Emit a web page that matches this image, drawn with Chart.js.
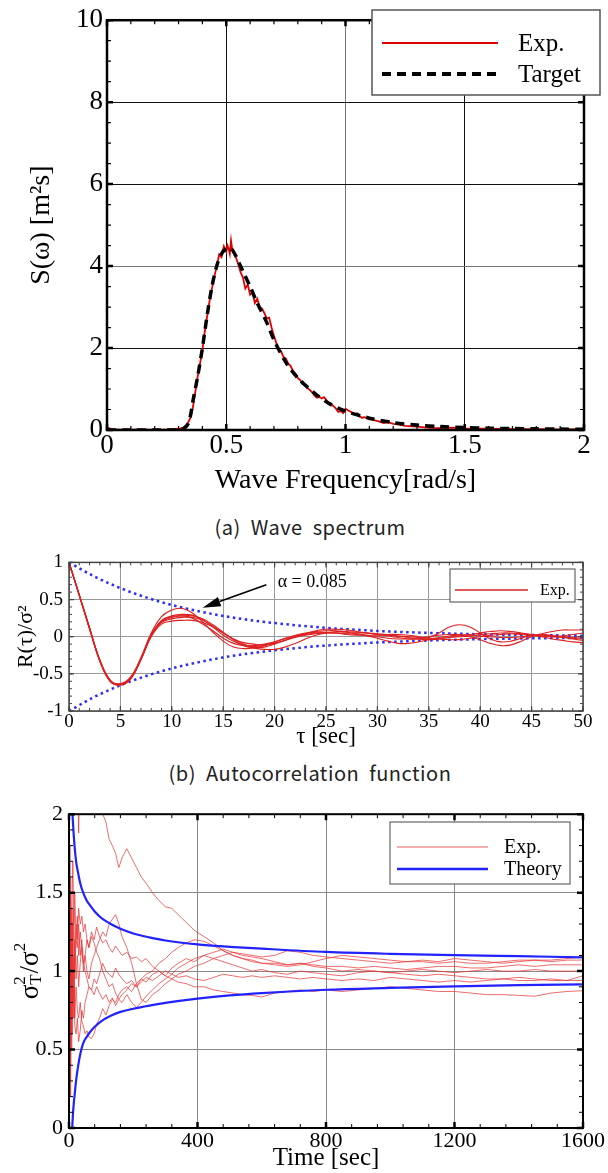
<!DOCTYPE html>
<html>
<head>
<meta charset="utf-8">
<script src="https://cdn.jsdelivr.net/npm/chart.js@4"></script>
<style>
  body { margin: 0; background: #fff; width: 608px; height: 1173px; position: relative; overflow: hidden; }
  canvas { position: absolute; left: 0; }
  .caption { position: absolute; left: 6px; width: 608px; text-align: center; font-family: "Noto Sans CJK KR", sans-serif;
             font-size: 20px; letter-spacing: 0.5px; word-spacing: 5px; color: #222; line-height: 26px; }
</style>
</head>
<body>
<canvas id="spectrumChart" width="608" height="505" style="top:0"></canvas>
<div class="caption" style="top:514px">(a) Wave spectrum</div>
<canvas id="acfChart" width="608" height="210" style="top:545px"></canvas>
<div class="caption" style="top:760px">(b) Autocorrelation function</div>
<canvas id="varChart" width="608" height="378" style="top:795px"></canvas>

<script>
// ---- (a) wave spectrum ----
const specTicksX = [0, 0.5, 1, 1.5, 2];
const specTicksY = [0, 2, 4, 6, 8, 10];

const targetFreq = [0, 0.1, 0.2, 0.3, 0.32, 0.34, 0.35, 0.36, 0.38, 0.40,
  0.42, 0.44, 0.46, 0.48, 0.50, 0.52, 0.54, 0.56, 0.58, 0.60,
  0.63, 0.67, 0.70, 0.75, 0.80, 0.87, 0.93, 1.0, 1.1, 1.2,
  1.3, 1.4, 1.5, 1.6, 1.7, 1.8, 1.9, 2.0];
const targetS = [0, 0, 0, 0, 0.03, 0.15, 0.35, 0.7, 1.3, 2.0,
  2.8, 3.5, 4.0, 4.3, 4.42, 4.43, 4.25, 4.0, 3.75, 3.5,
  3.1, 2.62, 2.2, 1.65, 1.27, 0.9, 0.65, 0.46, 0.29, 0.18,
  0.12, 0.085, 0.06, 0.045, 0.035, 0.028, 0.022, 0.018];

const expFreq = [0, 0.02, 0.05, 0.1, 0.15, 0.2, 0.25, 0.28,
  0.3, 0.32, 0.33, 0.34, 0.35, 0.36, 0.37, 0.38, 0.39,
  0.40, 0.41, 0.42, 0.43, 0.44, 0.45, 0.46, 0.47, 0.48, 0.49, 0.50,
  0.505, 0.51, 0.515, 0.52, 0.525, 0.53,
  0.54, 0.55, 0.56, 0.57, 0.58, 0.59, 0.60, 0.61, 0.62, 0.63,
  0.64, 0.65, 0.66, 0.67, 0.68, 0.69, 0.70, 0.71, 0.72, 0.73,
  0.74, 0.75, 0.76, 0.77, 0.78, 0.79, 0.80, 0.81, 0.82, 0.83,
  0.84, 0.85, 0.86, 0.87, 0.88, 0.89, 0.90, 0.91, 0.92, 0.93,
  0.94, 0.95, 0.96, 0.97, 0.98, 0.99, 1.00, 1.01, 1.02, 1.03,
  1.04, 1.05, 1.06, 1.07, 1.08,
  1.10, 1.12, 1.14, 1.16, 1.18, 1.20, 1.22,
  1.25, 1.28, 1.30, 1.35, 1.40, 1.45, 1.50, 1.55, 1.60, 1.70, 1.80, 1.90, 2.00];
const expS = [0.06, 0.02, 0.01, 0.01, 0.01, 0.01, 0.01, 0.02,
  0.03, 0.06, 0.1, 0.18, 0.3, 0.55, 0.92, 1.3, 1.62,
  1.95, 2.4, 2.78, 3.15, 3.45, 3.75, 3.98, 4.28, 4.22, 4.48, 4.35,
  4.5, 4.42, 4.3, 4.62, 4.4, 4.32,
  4.22, 4.05, 3.85, 3.72, 3.45, 3.55, 3.3, 3.36, 3.1, 3.2,
  3.0, 2.96, 2.85, 2.72, 2.74, 2.5, 2.3, 2.12, 1.98, 1.92,
  1.78, 1.74, 1.62, 1.56, 1.44, 1.38, 1.27, 1.22, 1.12, 1.1,
  1.03, 0.98, 0.92, 0.84, 0.79, 0.81, 0.77, 0.8, 0.73, 0.67,
  0.63, 0.58, 0.52, 0.44, 0.46, 0.41, 0.52, 0.48, 0.45, 0.41,
  0.39, 0.41, 0.33, 0.3, 0.31,
  0.26, 0.24, 0.21, 0.17, 0.19, 0.15, 0.14,
  0.1, 0.09, 0.08, 0.05, 0.045, 0.06, 0.04, 0.03, 0.035, 0.02, 0.02, 0.015, 0.02];

// ---- (b) autocorrelation ----
const acfTicksX = [0, 5, 10, 15, 20, 25, 30, 35, 40, 45, 50];
const acfTicksY = [-1, -0.5, 0, 0.5, 1];

const lag = [0, 1, 2, 3, 4, 5, 6, 7, 8, 9, 10, 11, 12, 13, 14, 15, 16, 17, 18, 19, 20,
  21, 22, 23, 24, 25, 26, 27, 28, 29, 30, 31, 32, 33, 34, 35, 36, 37, 38, 39, 40,
  41, 42, 43, 44, 45, 46, 47, 48, 49, 50];
const acfRun1 = [1, 0.56, 0.11, -0.32, -0.59, -0.64, -0.55, -0.28, 0.05, 0.27,
  0.36, 0.38, 0.32, 0.2, 0.06, -0.06, -0.14, -0.16, -0.15, -0.12,
  -0.07, -0.02, 0.02, 0.05, 0.07, 0.08, 0.08, 0.06, 0.04, 0.02,
  0.0, -0.02, -0.03, -0.03, -0.02, 0.0, 0.02, 0.03, 0.03, 0.02,
  0.01, 0.0, -0.01, -0.01, 0.0, 0.01, 0.02, 0.01, 0.0, -0.02, -0.03];
const acfRun2 = [1, 0.56, 0.12, -0.31, -0.58, -0.65, -0.57, -0.31, 0.02, 0.22,
  0.28, 0.3, 0.29, 0.23, 0.13, 0.02, -0.06, -0.11, -0.13, -0.12,
  -0.09, -0.05, 0.0, 0.04, 0.08, 0.1, 0.1, 0.09, 0.07, 0.05,
  0.03, 0.01, -0.01, -0.03, -0.03, -0.01, 0.05, 0.13, 0.16, 0.13,
  0.05, -0.03, -0.07, -0.06, -0.02, 0.02, 0.03, 0.02, 0.0, -0.01, 0.0];
const acfRun3 = [1, 0.57, 0.12, -0.32, -0.59, -0.64, -0.56, -0.3, 0.02, 0.2,
  0.26, 0.28, 0.28, 0.24, 0.16, 0.06, -0.04, -0.12, -0.15, -0.14,
  -0.1, -0.05, 0.0, 0.03, 0.05, 0.05, 0.05, 0.04, 0.03, 0.01,
  -0.02, -0.06, -0.09, -0.09, -0.07, -0.04, -0.01, 0.01, 0.02, 0.0,
  -0.04, -0.09, -0.12, -0.11, -0.06, 0.0, 0.04, 0.07, 0.09, 0.09, 0.09];
const acfRun4 = [1, 0.56, 0.11, -0.33, -0.6, -0.65, -0.56, -0.31, 0.01, 0.19,
  0.24, 0.26, 0.26, 0.22, 0.14, 0.05, -0.03, -0.08, -0.1, -0.11,
  -0.09, -0.05, -0.01, 0.02, 0.04, 0.05, 0.05, 0.05, 0.05, 0.05,
  0.04, 0.03, 0.01, -0.01, -0.03, -0.04, -0.03, -0.01, 0.01, 0.03,
  0.05, 0.07, 0.08, 0.07, 0.05, 0.03, 0.01, 0.0, -0.01, -0.03, -0.05];
const acfRun5 = [1, 0.55, 0.1, -0.33, -0.6, -0.64, -0.55, -0.3, 0.0, 0.17,
  0.21, 0.22, 0.22, 0.19, 0.13, 0.05, -0.03, -0.1, -0.15, -0.17,
  -0.17, -0.14, -0.09, -0.03, 0.02, 0.05, 0.07, 0.07, 0.06, 0.05,
  0.03, 0.02, 0.01, 0.0, -0.01, -0.02, -0.02, -0.01, 0.0, 0.01,
  0.03, 0.04, 0.05, 0.05, 0.04, 0.02, 0.0, -0.03, -0.05, -0.07, -0.08];
const acfRun6 = [1, 0.56, 0.11, -0.32, -0.59, -0.63, -0.54, -0.29, 0.03, 0.21,
  0.27, 0.28, 0.25, 0.17, 0.08, -0.02, -0.09, -0.12, -0.12, -0.1,
  -0.07, -0.03, 0.01, 0.04, 0.06, 0.06, 0.05, 0.03, 0.02, 0.02,
  0.02, 0.03, 0.03, 0.02, 0.0, -0.02, -0.03, -0.04, -0.04, -0.02,
  0.0, 0.02, 0.03, 0.04, 0.03, 0.02, 0.01, 0.0, 0.01, 0.03, 0.05];

// exponential envelope, alpha = 0.085
const envLag = [0, 2.5, 5, 7.5, 10, 12.5, 15, 17.5, 20, 22.5, 25, 27.5, 30, 32.5, 35, 37.5, 40, 42.5, 45, 47.5, 50];
const envUpper = [1, 0.808, 0.654, 0.529, 0.427, 0.346, 0.279, 0.226, 0.183, 0.148, 0.119,
  0.097, 0.078, 0.063, 0.051, 0.041, 0.033, 0.027, 0.022, 0.018, 0.014];
const envLower = [-1, -0.808, -0.654, -0.529, -0.427, -0.346, -0.279, -0.226, -0.183, -0.148, -0.119,
  -0.097, -0.078, -0.063, -0.051, -0.041, -0.033, -0.027, -0.022, -0.018, -0.014];

// ---- (c) sample variance ratio vs record length ----
const varTicksX = [0, 400, 800, 1200, 1600];
const varTicksY = [0, 0.5, 1, 1.5, 2];

const recTime = [1, 3, 5, 7, 9, 12, 15, 18, 22, 26,
  30, 35, 40, 45, 50, 56, 62, 70, 78, 86,
  95, 105, 115, 125, 135, 145, 155, 165, 180, 195,
  210, 225, 240, 260, 280, 300, 320, 340, 365, 390,
  420, 450, 480, 510, 540, 570, 600, 640, 680, 720,
  760, 800, 850, 900, 950, 1000, 1050, 1100, 1150, 1200,
  1250, 1300, 1350, 1400, 1450, 1500, 1550, 1600];
const varRun1 = [2.4, 2.8, 3.1, 2.9, 2.7, 2.9, 3.0, 2.8, 2.6, 2.7,
  1.88, 2.45, 2.35, 2.3, 2.25, 2.2, 2.15, 2.1, 2.08, 2.05,
  2.02, 2.0, 1.95, 1.84, 1.8, 1.75, 1.66, 1.72, 1.78, 1.72,
  1.66, 1.6, 1.56, 1.5, 1.45, 1.41, 1.40, 1.36, 1.31, 1.26,
  1.22, 1.18, 1.13, 1.1, 1.08, 1.07, 1.05, 1.05, 1.04, 1.05,
  1.04, 1.03, 1.03, 1.02, 1.03, 1.02, 1.01, 1.02, 1.03, 1.03,
  1.02, 1.02, 1.03, 1.04, 1.03, 1.04, 1.04, 1.04];
const varRun2 = [1.2, 0.7, 1.5, 0.9, 1.3, 1.1, 1.4, 1.0, 1.2, 1.15,
  1.3, 1.1, 1.2, 1.05, 1.1, 1.0, 0.95, 1.05, 1.1, 1.15,
  1.2, 1.25, 1.22, 1.3, 1.33, 1.36, 1.3, 1.22, 1.15, 1.05,
  0.92, 0.82, 0.8, 0.85, 0.88, 0.92, 0.95, 0.98, 1.0, 1.03,
  1.05, 1.08, 1.1, 1.12, 1.11, 1.1, 1.09, 1.1, 1.13, 1.12,
  1.1, 1.09, 1.08, 1.07, 1.06, 1.05, 1.06, 1.07, 1.06, 1.08,
  1.07, 1.06, 1.05, 1.06, 1.07, 1.07, 1.08, 1.09];
const varRun3 = [0.3, 0.9, 0.2, 1.1, 0.6, 1.3, 0.8, 1.2, 0.95, 1.1,
  0.9, 1.05, 1.15, 1.0, 1.1, 1.2, 1.15, 1.25, 1.2, 1.28,
  1.22, 1.18, 1.2, 1.15, 1.12, 1.16, 1.13, 1.1, 1.12, 1.08,
  1.09, 1.06, 1.08, 1.03, 1.0, 0.97, 0.95, 0.93, 0.92, 0.9,
  0.9, 0.88, 0.87, 0.86, 0.85, 0.845, 0.835, 0.86, 0.87, 0.88,
  0.87, 0.88, 0.87, 0.88, 0.89, 0.9, 0.89, 0.88, 0.87, 0.87,
  0.86, 0.85, 0.85, 0.845, 0.84, 0.86, 0.87, 0.875];
const varRun4 = [0.2, 1.5, 0.5, 1.2, 0.9, 0.8, 1.1, 0.7, 0.9, 0.75,
  0.7, 0.8, 0.68, 0.65, 0.6, 0.62, 0.58, 0.57, 0.6, 0.66,
  0.7, 0.76, 0.72, 0.78, 0.82, 0.8, 0.85, 0.88, 0.9, 0.87,
  0.92, 0.95, 0.93, 0.98, 1.0, 0.97, 1.02, 1.05, 1.08, 1.06,
  1.1, 1.08, 1.06, 1.04, 1.02, 1.0, 1.01, 0.99, 0.98, 1.0,
  0.99, 0.98, 0.97, 0.99, 1.0, 0.99, 0.98, 0.97, 0.98, 0.97,
  0.96, 0.95, 0.95, 0.96, 0.95, 0.94, 0.94, 0.94];
const varRun5 = [1.8, 1.0, 1.6, 1.2, 1.4, 1.7, 1.3, 1.5, 1.2, 1.35,
  1.1, 1.25, 1.15, 1.05, 1.0, 0.95, 0.9, 0.88, 0.85, 0.9,
  0.86, 0.82, 0.85, 0.8, 0.83, 0.78, 0.82, 0.8, 0.85, 0.8,
  0.77, 0.8, 0.84, 0.88, 0.92, 0.95, 0.98, 1.02, 1.05, 1.08,
  1.1, 1.12, 1.14, 1.12, 1.1, 1.09, 1.08, 1.06, 1.04, 1.05,
  1.03, 1.02, 1.0, 1.01, 1.0, 0.99, 1.0, 1.01, 1.0, 0.99,
  1.0, 1.01, 1.0, 1.0, 1.01, 1.0, 1.0, 1.0];
const varRun6 = [0.6, 1.3, 0.4, 0.8, 1.4, 1.0, 0.7, 1.1, 1.3, 1.2,
  1.4, 1.3, 1.35, 1.25, 1.3, 1.2, 1.15, 1.22, 1.18, 1.12,
  1.08, 1.0, 0.95, 0.9, 0.92, 0.86, 0.82, 0.85, 0.88, 0.92,
  0.9, 0.95, 0.98, 1.0, 1.05, 1.08, 1.12, 1.15, 1.18, 1.2,
  1.19, 1.16, 1.13, 1.1, 1.08, 1.06, 1.05, 1.04, 1.03, 1.04,
  1.06, 1.08, 1.1, 1.09, 1.08, 1.07, 1.06, 1.06, 1.05, 1.06,
  1.05, 1.05, 1.06, 1.07, 1.07, 1.06, 1.07, 1.07];
const varRun7 = [1.0, 0.3, 0.8, 0.5, 1.0, 0.7, 0.9, 0.65, 0.6, 0.7,
  0.55, 0.62, 0.75, 0.7, 0.8, 0.85, 0.9, 0.88, 0.95, 0.92,
  0.98, 1.05, 1.0, 0.98, 0.96, 1.02, 0.98, 0.95, 0.92, 0.94,
  0.9, 0.93, 0.96, 0.94, 0.97, 1.0, 0.98, 0.96, 0.97, 0.95,
  0.94, 0.96, 0.98, 0.97, 0.96, 0.97, 0.96, 0.97, 0.96, 0.95,
  0.96, 0.95, 0.94, 0.95, 0.94, 0.96, 0.95, 0.94, 0.93, 0.94,
  0.93, 0.94, 0.95, 0.94, 0.94, 0.95, 0.94, 0.97];

const theoryUpperTime = [5, 8, 10, 12, 15, 18, 22, 28, 35, 44, 55, 65, 80, 100, 130, 160, 200, 250, 300, 400,
  500, 600, 800, 1000, 1200, 1400, 1600];
const theoryUpper = [2.6, 2.2, 2.05, 1.96, 1.86, 1.78, 1.70, 1.63, 1.56, 1.5, 1.45, 1.42, 1.38, 1.34, 1.3, 1.27,
  1.24, 1.215, 1.195, 1.17, 1.155, 1.143, 1.122, 1.11, 1.102, 1.095, 1.088];
const theoryLowerTime = [10, 12, 15, 18, 22, 28, 35, 44, 55, 65, 80, 100, 130, 160, 200, 250, 300, 400,
  500, 600, 800, 1000, 1200, 1400, 1600];
const theoryLower = [0.0, 0.08, 0.16, 0.22, 0.3, 0.39, 0.47, 0.54, 0.58, 0.61, 0.645, 0.68, 0.715, 0.74,
  0.76, 0.78, 0.797, 0.824, 0.845, 0.86, 0.881, 0.893, 0.903, 0.91, 0.915];

// ---------------------------------------------------------------------------
const SERIF = '"Liberation Serif", "Times New Roman", serif';
Chart.defaults.font.family = SERIF;
Chart.defaults.color = '#000';
Chart.defaults.animation = false;
Chart.defaults.elements.point.radius = 0;
Chart.defaults.plugins.legend.display = false;
Chart.defaults.plugins.tooltip.enabled = false;

const pts = (xs, ys) => xs.map((x, i) => ({ x, y: ys[i] }));

// linear axis with fixed tick list and a fixed box size so the plot area lands where we want
function axis(ticks, o) {
  return {
    type: 'linear',
    min: ticks[0],
    max: ticks[ticks.length - 1],
    afterBuildTicks: s => { s.ticks = ticks.map(value => ({ value })); },
    afterFit: s => { if (s.isHorizontal()) s.height = o.size; else s.width = o.size; },
    grid: { color: o.grid, lineWidth: 1, drawTicks: false },
    border: { display: false },
    ticks: { font: { size: o.tickSize, family: SERIF }, padding: o.pad, color: '#000', callback: v => String(v) },
    title: { display: !!o.title, text: o.title, font: { size: o.titleSize, family: SERIF }, padding: o.titlePad, color: '#000' }
  };
}

// box frame plus inward major/minor ticks on all four sides
const frameTicks = {
  id: 'frameTicks',
  afterDatasetsDraw(chart, args, o) {
    const { ctx, chartArea: a, scales: { x, y } } = chart;
    ctx.save();
    ctx.strokeStyle = o.color;
    const mark = (scale, step, len, width) => {
      const n = Math.round((scale.max - scale.min) / step);
      ctx.lineWidth = width;
      ctx.beginPath();
      for (let i = 0; i <= n; i++) {
        const p = scale.getPixelForValue(scale.min + i * step);
        if (scale.isHorizontal()) {
          ctx.moveTo(p, a.bottom); ctx.lineTo(p, a.bottom - len);
          ctx.moveTo(p, a.top); ctx.lineTo(p, a.top + len);
        } else {
          ctx.moveTo(a.left, p); ctx.lineTo(a.left + len, p);
          ctx.moveTo(a.right, p); ctx.lineTo(a.right - len, p);
        }
      }
      ctx.stroke();
    };
    mark(x, o.xMinor, o.minorLen, o.minorWidth);
    mark(y, o.yMinor, o.minorLen, o.minorWidth);
    mark(x, o.xMajor, o.majorLen, o.majorWidth);
    mark(y, o.yMajor, o.majorLen, o.majorWidth);
    ctx.lineWidth = o.frameWidth;
    ctx.strokeRect(a.left, a.top, a.right - a.left, a.bottom - a.top);
    ctx.restore();
  }
};

// boxed legend, one row per label, style taken from the first dataset carrying that label
const boxLegend = {
  id: 'boxLegend',
  afterDraw(chart, args, o) {
    const { ctx } = chart;
    const [l, t, r, b] = o.box;
    ctx.save();
    ctx.fillStyle = '#fff';
    ctx.fillRect(l, t, r - l, b - t);
    ctx.strokeStyle = o.borderColor;
    ctx.lineWidth = o.borderWidth;
    ctx.strokeRect(l, t, r - l, b - t);
    ctx.font = o.font;
    ctx.textBaseline = 'middle';
    for (const row of o.rows) {
      const ds = chart.data.datasets.find(d => d.label === row.label);
      ctx.strokeStyle = ds.borderColor;
      ctx.lineWidth = row.lineWidth || ds.borderWidth;
      ctx.setLineDash(ds.borderDash || []);
      ctx.beginPath();
      ctx.moveTo(o.lineX[0], row.y);
      ctx.lineTo(o.lineX[1], row.y);
      ctx.stroke();
      ctx.setLineDash([]);
      ctx.fillStyle = '#000';
      ctx.fillText(row.label, o.textX, row.y + 1);
    }
    ctx.restore();
  }
};

// arrow + label pointing at the envelope (data coordinates)
const alphaNote = {
  id: 'alphaNote',
  afterDraw(chart, args, o) {
    const { ctx, scales: { x, y } } = chart;
    const tx = x.getPixelForValue(o.tip[0]), ty = y.getPixelForValue(o.tip[1]);
    const sx = x.getPixelForValue(o.tail[0]), sy = y.getPixelForValue(o.tail[1]);
    const ang = Math.atan2(ty - sy, tx - sx);
    const head = 18, half = 5;
    const bx = tx - head * Math.cos(ang), by = ty - head * Math.sin(ang);
    ctx.save();
    ctx.strokeStyle = '#000';
    ctx.fillStyle = '#000';
    ctx.lineWidth = 1.6;
    ctx.beginPath(); ctx.moveTo(sx, sy); ctx.lineTo(bx, by); ctx.stroke();
    ctx.beginPath();
    ctx.moveTo(tx, ty);
    ctx.lineTo(bx + half * Math.sin(ang), by - half * Math.cos(ang));
    ctx.lineTo(bx - half * Math.sin(ang), by + half * Math.cos(ang));
    ctx.closePath(); ctx.fill();
    ctx.font = o.font;
    ctx.textBaseline = 'middle';
    ctx.fillText(o.text, x.getPixelForValue(o.at[0]), y.getPixelForValue(o.at[1]));
    ctx.restore();
  }
};

// sigma_T^2 / sigma^2 axis title with stacked sub/superscript
const sigmaTitle = {
  id: 'sigmaTitle',
  afterDraw(chart, args, o) {
    const { ctx, chartArea: a } = chart;
    const big = `${o.size}px ${SERIF}`, small = `${Math.round(o.size * 0.62)}px ${SERIF}`;
    ctx.save();
    ctx.translate(o.x, (a.top + a.bottom) / 2);
    ctx.rotate(-Math.PI / 2);
    ctx.fillStyle = '#000';
    ctx.textBaseline = 'alphabetic';
    ctx.font = big;
    const wSig = ctx.measureText('σ').width, wSlash = ctx.measureText('/σ').width;
    ctx.font = small;
    const wStack = Math.max(ctx.measureText('2').width, ctx.measureText('T').width) + 1;
    const w2 = ctx.measureText('2').width;
    const base = o.size * 0.32;
    let cx = -(wSig + wStack + wSlash + w2) / 2;
    ctx.font = big; ctx.fillText('σ', cx, base); cx += wSig;
    ctx.font = small;
    ctx.fillText('2', cx, base - o.size * 0.48);
    ctx.fillText('T', cx, base + o.size * 0.12);
    cx += wStack;
    ctx.font = big; ctx.fillText('/σ', cx, base); cx += wSlash;
    ctx.font = small; ctx.fillText('2', cx, base - o.size * 0.48);
    ctx.restore();
  }
};

// (a)
new Chart(document.getElementById('spectrumChart'), {
  type: 'line',
  data: {
    datasets: [
      { label: 'Target', data: pts(targetFreq, targetS), borderColor: '#000', borderWidth: 3.5,
        borderDash: [9, 6], tension: 0.3, order: 0 },
      { label: 'Exp.', data: pts(expFreq, expS), borderColor: '#e00000', borderWidth: 1.8, order: 1 }
    ]
  },
  options: {
    responsive: false,
    layout: { padding: { top: 18, right: 24, left: 0, bottom: 0 } },
    scales: {
      x: axis(specTicksX, { size: 75, tickSize: 27, pad: 0, title: 'Wave Frequency[rad/s]', titleSize: 28, titlePad: 8,
        grid: c => (c.tick && c.tick.value === 1 ? '#777' : '#111') }),
      y: axis(specTicksY, { size: 107, tickSize: 27, pad: 4, title: 'S(ω) [m²s]', titleSize: 28, titlePad: 25,
        grid: c => (c.tick && c.tick.value === 4 ? '#777' : '#111') })
    },
    plugins: {
      frameTicks: { color: '#000', xMajor: 0.5, xMinor: 0.1, yMajor: 2, yMinor: 0.5,
        majorLen: 6, minorLen: 4, majorWidth: 2.5, minorWidth: 1.2, frameWidth: 2.5 },
      boxLegend: { box: [372, 10, 600, 95], lineX: [382, 498], textX: 518, font: `25px ${SERIF}`,
        borderColor: '#555', borderWidth: 1.5,
        rows: [{ label: 'Exp.', y: 43, lineWidth: 2 }, { label: 'Target', y: 74, lineWidth: 4 }] }
    }
  },
  plugins: [frameTicks, boxLegend]
});

// (b)
const acfRuns = [acfRun1, acfRun2, acfRun3, acfRun4, acfRun5, acfRun6];
new Chart(document.getElementById('acfChart'), {
  type: 'line',
  data: {
    datasets: [
      ...acfRuns.map(run => ({ label: 'Exp.', data: pts(lag, run), borderColor: '#dd2020', borderWidth: 1.1,
        tension: 0.4 })),
      { label: 'upper', data: pts(envLag, envUpper), borderColor: '#2b2bff', borderWidth: 2.5,
        borderDash: [2.5, 3.5], cubicInterpolationMode: 'monotone' },
      { label: 'lower', data: pts(envLag, envLower), borderColor: '#2b2bff', borderWidth: 2.5,
        borderDash: [2.5, 3.5], cubicInterpolationMode: 'monotone' }
    ]
  },
  options: {
    responsive: false,
    layout: { padding: { top: 13, right: 25, left: 0, bottom: 0 } },
    scales: {
      x: axis(acfTicksX, { size: 44, tickSize: 19, pad: 0, title: 'τ [sec]', titleSize: 23, titlePad: 4, grid: '#999' }),
      y: axis(acfTicksY, { size: 69, tickSize: 19, pad: 6, title: 'R(τ)/σ²', titleSize: 22, titlePad: 13, grid: '#999' })
    },
    plugins: {
      frameTicks: { color: '#444', xMajor: 5, xMinor: 1, yMajor: 0.5, yMinor: 0.1,
        majorLen: 5, minorLen: 3, majorWidth: 1.2, minorWidth: 1, frameWidth: 1.5 },
      boxLegend: { box: [450, 24, 575, 57], lineX: [455, 528], textX: 540, font: `16px ${SERIF}`,
        borderColor: '#666', borderWidth: 1.2, rows: [{ label: 'Exp.', y: 45, lineWidth: 1.5 }] },
      alphaNote: { tip: [13, 0.39], tail: [19.2, 0.7], at: [20.3, 0.73], text: 'α = 0.085', font: `18px ${SERIF}` }
    }
  },
  plugins: [frameTicks, boxLegend, alphaNote]
});

// (c)
const varRuns = [varRun1, varRun2, varRun3, varRun4, varRun5, varRun6, varRun7];
new Chart(document.getElementById('varChart'), {
  type: 'line',
  data: {
    datasets: [
      { label: 'Theory', data: pts(theoryUpperTime, theoryUpper), borderColor: '#2222ff', borderWidth: 2.2,
        cubicInterpolationMode: 'monotone', order: 0 },
      { label: 'Theory lower', data: pts(theoryLowerTime, theoryLower), borderColor: '#2222ff', borderWidth: 2.2,
        cubicInterpolationMode: 'monotone', order: 0 },
      ...varRuns.map(run => ({ label: 'Exp.', data: pts(recTime, run), borderColor: 'rgba(232,50,50,0.8)',
        borderWidth: 0.9, order: 1 }))
    ]
  },
  options: {
    responsive: false,
    layout: { padding: { top: 18, right: 25, left: 0, bottom: 0 } },
    scales: {
      x: axis(varTicksX, { size: 45, tickSize: 22, pad: 0, title: 'Time [sec]', titleSize: 25, titlePad: 0, grid: '#888' }),
      y: axis(varTicksY, { size: 69, tickSize: 22, pad: 6, grid: '#888' })
    },
    plugins: {
      frameTicks: { color: '#000', xMajor: 400, xMinor: 80, yMajor: 0.5, yMinor: 0.1,
        majorLen: 6, minorLen: 4, majorWidth: 2.5, minorWidth: 1, frameWidth: 2 },
      boxLegend: { box: [390, 27, 570, 89], lineX: [397, 488], textX: 504, font: `20px ${SERIF}`,
        borderColor: '#666', borderWidth: 1.2,
        rows: [{ label: 'Exp.', y: 52, lineWidth: 1 }, { label: 'Theory', y: 74, lineWidth: 2.5 }] },
      sigmaTitle: { x: 29, size: 27 }
    }
  },
  plugins: [frameTicks, boxLegend, sigmaTitle]
});
</script>
</body>
</html>
